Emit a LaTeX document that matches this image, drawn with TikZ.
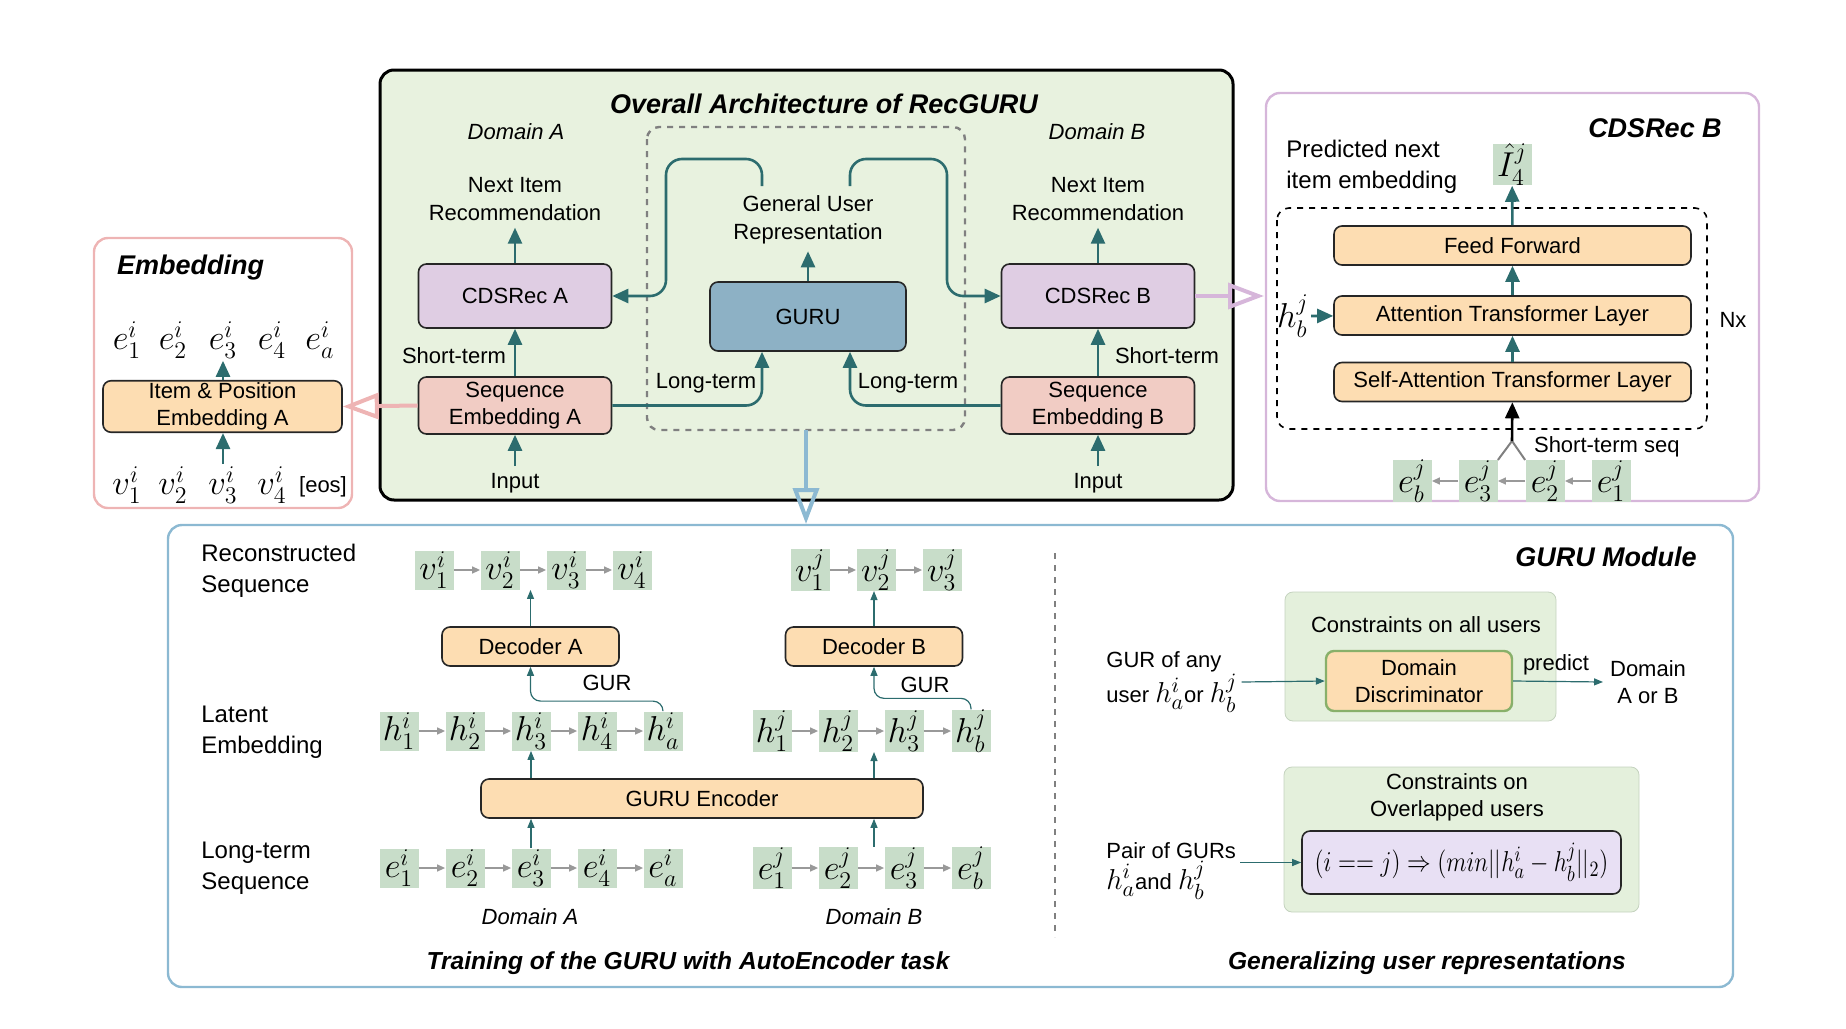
\documentclass[tikz,border=0pt]{standalone}
\usepackage{amsmath}
\usepackage{amssymb}
\usepackage{graphicx}
\usepackage[no-math]{fontspec}
\setmainfont{Liberation Sans}
\usepackage{tikz}
\usetikzlibrary{arrows.meta}
\definecolor{arrowteal}{RGB}{44,108,110}
\definecolor{archgreen}{RGB}{232,242,223}
\definecolor{cdslilac}{RGB}{223,205,227}
\definecolor{gurublue}{RGB}{141,177,197}
\definecolor{seqpink}{RGB}{241,204,196}
\definecolor{boxorange}{RGB}{253,221,178}
\definecolor{sqgreen}{RGB}{200,221,201}
\definecolor{embpink}{RGB}{238,180,180}
\definecolor{cdsline}{RGB}{214,182,218}
\definecolor{modblue}{RGB}{140,185,210}
\definecolor{consgreen}{RGB}{228,240,220}
\definecolor{consline}{RGB}{196,210,190}
\definecolor{formlilac}{RGB}{232,224,244}
\definecolor{discline}{RGB}{136,176,106}
\newcommand{\fntbox}{\fontsize{11}{13.5}\selectfont}
\newcommand{\fntnext}{\fontsize{11}{14}\selectfont}
\newcommand{\fntlbl}{\fontsize{12}{15.5}\selectfont}
\newcommand{\fnttitle}{\fontsize{13.5}{16}\selectfont\bfseries\itshape}
\newcommand{\fntsub}{\fontsize{12.3}{15}\selectfont\bfseries\itshape}
\newcommand{\fntsym}{\fontsize{17}{19}\selectfont}
\newcommand{\fntmath}{\fontsize{15}{17}\selectfont}
\tikzstyle{blk}=[draw=black!85, line width=0.8pt, rounded corners=4pt, align=center, font=\fntbox, inner sep=1pt]
\tikzstyle{cds}=[blk, fill=cdslilac, minimum width=96.5pt, minimum height=32pt]
\tikzstyle{seqemb}=[blk, fill=seqpink, minimum width=96.5pt, minimum height=28.5pt]
\tikzstyle{tlayer}=[blk, fill=boxorange, minimum width=178.5pt, minimum height=19.5pt]
\tikzstyle{coder}=[blk, fill=boxorange, minimum width=88.5pt, minimum height=19.5pt]
\tikzstyle{sq}=[fill=sqgreen, minimum size=19.5pt, inner sep=0pt, font=\fntsym]
\tikzstyle{vec}=[inner sep=1pt, font=\fntsym]
\tikzstyle{txt}=[align=center, font=\fntbox]
\tikzstyle{lbl}=[align=left, anchor=west, inner sep=2pt, font=\fntlbl]
\tikzstyle{flow}=[draw=arrowteal, line width=1.3pt, -{Triangle[length=8pt,width=7pt]}]
\tikzstyle{thinflow}=[draw=arrowteal, line width=0.6pt, -{Triangle[length=4.5pt,width=3.5pt]}]
\tikzstyle{seqlink}=[draw=gray!80, line width=0.7pt, -{Triangle[length=4pt,width=3.5pt]}]
\tikzstyle{hollow}=[line width=2pt, -{Triangle[open,length=18pt,width=13pt]}]

\begin{document}
\begin{tikzpicture}[x=0.5pt, y=-0.5pt]
  \useasboundingbox (0,0) rectangle (1846,1028);

  % outer frames
  \draw[embpink, line width=1.2pt, rounded corners=7pt] (94,238) rectangle (352,508);
  \draw[line width=1.5pt, fill=archgreen, rounded corners=7pt] (380,70) rectangle (1233,500);
  \draw[cdsline, line width=1.2pt, rounded corners=7pt] (1266,93) rectangle (1759,501);
  \draw[modblue, line width=1.2pt, rounded corners=7pt] (168,525) rectangle (1733,987);

  % embedding panel
  \node[font=\fnttitle, anchor=west] (embtitle) at (110,268) {Embedding};
  \foreach \n/\x/\s in {1/127/1, 2/173/2, 3/223/3, 4/272/4, 5/320/a}
    \node[vec] (emb\n) at (\x,340) {$e^i_{\s}$};
  \node[blk, fill=boxorange, minimum width=119.5pt, minimum height=25.5pt] (itempos) at (222.5,406.5) {Item \& Position\\Embedding A};
  \foreach \n/\x in {1/127, 2/173, 3/223, 4/272}
    \node[vec] (inp\n) at (\x,485) {$v^i_{\n}$};
  \node[txt] (eos) at (323,487) {[eos]};
  \draw[flow] (itempos.north -| emb3) -- (emb3.south);
  \draw[flow] (inp3.north) -- (inp3.north |- itempos.south);

  % overall architecture
  \node[font=\fnttitle] (archtitle) at (824,104) {Overall Architecture of RecGURU};
  \node[txt, font=\fntbox\itshape] (domA) at (516,132) {Domain A};
  \node[txt, font=\fntbox\itshape] (domB) at (1097,132) {Domain B};
  \draw[gray, dashed, line width=1.2pt, rounded corners=6pt] (647,127) rectangle (965,430);

  \node[cds] (cdsA) at (515,296) {CDSRec A};
  \node[cds] (cdsB) at (1098,296) {CDSRec B};
  \node[blk, fill=gurublue, minimum width=98pt, minimum height=34.5pt] (guru) at (808,316.5) {GURU};
  \node[seqemb] (seqA) at (515,405.5) {Sequence\\Embedding A};
  \node[seqemb] (seqB) at (1098,405.5) {Sequence\\Embedding B};
  \node[txt, font=\fntnext] (nextA) at (515,199) {Next Item\\Recommendation};
  \node[txt, font=\fntnext] (nextB) at (1098,199) {Next Item\\Recommendation};
  \node[txt, font=\fntnext] (gurtext) at (808,220) {General User\\Representation};
  \node[txt] (inA) at (515,483) {Input};
  \node[txt] (inB) at (1098,483) {Input};
  \node[txt] (shortA) at (454,356) {Short-term};
  \node[txt] (shortB) at (1167,356) {Short-term};
  \node[txt] (longA) at (706,383) {Long-term};
  \node[txt] (longB) at (908,383) {Long-term};
  \coordinate (gurL) at (762,186);
  \coordinate (gurR) at (850,186);

  \draw[flow] (inA) -- (seqA);
  \draw[flow] (seqA) -- (cdsA);
  \draw[flow] (cdsA) -- (nextA);
  \draw[flow] (inB) -- (seqB);
  \draw[flow] (seqB) -- (cdsB);
  \draw[flow] (cdsB) -- (nextB);
  \draw[flow] (guru) -- (gurtext);
  \draw[flow, rounded corners=8pt] (gurL) |- (666,159) |- (cdsA.east);
  \draw[flow, rounded corners=8pt] (gurR) |- (947,159) |- (cdsB.west);
  \draw[flow, rounded corners=8pt] (seqA.east) -| ([xshift=-23pt]guru.south);
  \draw[flow, rounded corners=8pt] (seqB.west) -| ([xshift=21pt]guru.south);

  % CDSRec B panel
  \node[font=\fnttitle] (cdstitle) at (1655,128) {CDSRec B};
  \node[lbl] (predtext) at (1282,167) {Predicted next\\item embedding};
  \node[sq] (ihat) at (1512,164.5) {$\hat{I}^j_4$};
  \draw[dashed, line width=0.8pt, rounded corners=6pt] (1277,208) rectangle (1707,429);
  \node[tlayer] (ff) at (1512.5,245.5) {Feed Forward};
  \node[tlayer] (attn) at (1512.5,315.5) {Attention Transformer Layer};
  \node[tlayer] (selfattn) at (1512.5,382) {Self-Attention Transformer Layer};
  \node[vec] (hbj) at (1293,316) {$h^j_b$};
  \node[txt] (nx) at (1733,320) {Nx};
  \foreach \n/\x/\s in {1/1611/1, 2/1545/2, 3/1478/3, 4/1412/b}
    \node[sq] (se\n) at (\x,481) {$e^j_{\s}$};
  \foreach \a/\b in {1/2, 2/3, 3/4}
    \draw[seqlink] (se\a) -- (se\b);
  \coordinate (fork) at (1512,441);
  \draw[gray, line width=1pt] (se3.north east) -- (fork) -- (se2.north west);
  \draw[line width=1.3pt, -{Triangle[length=8pt,width=7pt]}] (fork) -- (selfattn);
  \node[txt, anchor=west] (stseq) at (1527,447) {Short-term seq};
  \draw[flow] (selfattn) -- (attn);
  \draw[flow] (attn) -- (ff);
  \draw[flow] (ff) -- (ihat);
  \draw[flow] (hbj) -- (attn);

  % GURU module
  \node[font=\fnttitle] (modtitle) at (1606,557) {GURU Module};
  \draw[gray, dashed, line width=1pt] (1055,553) -- (1055,937);
  \node[lbl] (recon) at (197,571) {Reconstructed\\Sequence};
  \node[lbl] (latent) at (197,732) {Latent\\Embedding};
  \node[lbl] (longseq) at (197,868) {Long-term\\Sequence};

  % sequences of squares
  \foreach \n/\x in {1/434, 2/500, 3/566, 4/632}
    \node[sq] (va\n) at (\x,570) {$v^i_{\n}$};
  \foreach \n/\x in {1/810, 2/876, 3/942}
    \node[sq] (vb\n) at (\x,570) {$v^j_{\n}$};
  \foreach \n/\x/\s in {1/399/1, 2/465/2, 3/531/3, 4/597/4, 5/663/a}{
    \node[sq] (ha\n) at (\x,731) {$h^i_{\s}$};
    \node[sq] (ea\n) at (\x,868) {$e^i_{\s}$};
  }
  \foreach \n/\x/\s in {1/772/1, 2/838/2, 3/904/3, 4/971/b}{
    \node[sq] (hb\n) at (\x,731) {$h^j_{\s}$};
    \node[sq] (eb\n) at (\x,868) {$e^j_{\s}$};
  }
  \foreach \a/\b in {1/2, 2/3, 3/4}{
    \draw[seqlink] (va\a) -- (va\b);
    \draw[seqlink] (hb\a) -- (hb\b);
    \draw[seqlink] (eb\a) -- (eb\b);
  }
  \foreach \a/\b in {1/2, 2/3}
    \draw[seqlink] (vb\a) -- (vb\b);
  \foreach \a/\b in {1/2, 2/3, 3/4, 4/5}{
    \draw[seqlink] (ha\a) -- (ha\b);
    \draw[seqlink] (ea\a) -- (ea\b);
  }

  % autoencoder
  \node[coder] (decA) at (530.5,646.5) {Decoder A};
  \node[coder] (decB) at (874,646.5) {Decoder B};
  \node[blk, fill=boxorange, minimum width=221pt, minimum height=19.5pt] (enc) at (702,798.5) {GURU Encoder};
  \draw[thinflow] (decA.north) -- (decA.north |- va2.south);
  \draw[thinflow] (decB.north) -- (decB.north |- vb2.south);
  \draw[thinflow] (enc.north -| ha3) -- (ha3.south);
  \draw[thinflow] (enc.north -| decB) -- (decB |- hb2.south);
  \draw[thinflow] (ea3.north) -- (ea3 |- enc.south);
  \draw[thinflow] (decB |- eb2.north) -- (decB |- enc.south);
  \draw[thinflow, rounded corners=5pt] (ha5.north) -- ++(0,-10) -| (decA.south);
  \draw[thinflow, rounded corners=5pt] (hb4.north) -- ++(0,-11) -| (decB.south);
  \node[txt] (gurA) at (607,683) {GUR};
  \node[txt] (gurB) at (925,685) {GUR};
  \node[txt, font=\fntbox\itshape] (tdomA) at (530,917) {Domain A};
  \node[txt, font=\fntbox\itshape] (tdomB) at (874,917) {Domain B};
  \node[font=\fntsub] (traintitle) at (688,963) {Training of the GURU with AutoEncoder task};

  % constraints
  \draw[consline, fill=consgreen, rounded corners=4pt] (1285,592) rectangle (1556,721);
  \node[txt] (cons1) at (1426,625) {Constraints on all users};
  \node[blk, fill=boxorange, draw=discline, line width=1.2pt, minimum width=93pt, minimum height=30pt] (disc) at (1419,681) {Domain\\Discriminator};
  \node[lbl, font=\fntbox] (gurany) at (1102,682) {GUR of any\\user {\fntmath$h^i_a$}or {\fntmath$h^j_b$}};
  \node[txt] (predict) at (1556,665) {predict};
  \node[txt] (domab) at (1648,682) {Domain\\A or B};
  \draw[thinflow] (gurany.east) -- (disc.west);
  \draw[thinflow] (disc.east) -- (domab.west);

  \draw[consline, fill=consgreen, rounded corners=4pt] (1284,767) rectangle (1639,912);
  \node[txt] (cons2) at (1457,797) {Constraints on\\Overlapped users};
  \node[blk, fill=formlilac, minimum width=159.5pt, minimum height=31.5pt, font=\fntmath] (formula) at (1461.5,862.5) {\scalebox{0.82}[1]{$(i==j)\Rightarrow(min||h^i_a-h^j_b||_2)$}};
  \node[lbl, font=\fntbox] (pair) at (1102,871) {Pair of GURs\\{\fntmath$h^i_a$}and {\fntmath$h^j_b$}};
  \draw[thinflow] (pair.east |- formula.west) -- (formula.west);
  \node[font=\fntsub] (gentitle) at (1427,963) {Generalizing user representations};

  % hollow arrows between panels
  \coordinate (cdsin) at (1264,296);
  \coordinate (dashbot) at (806,430);
  \coordinate (modin) at (806,524);
  \draw[hollow, embpink] (seqA.west) -- (itempos.east);
  \draw[hollow, cdsline] (cdsB.east) -- (cdsin);
  \draw[hollow, modblue] (dashbot) -- (modin);
\end{tikzpicture}
\end{document}
